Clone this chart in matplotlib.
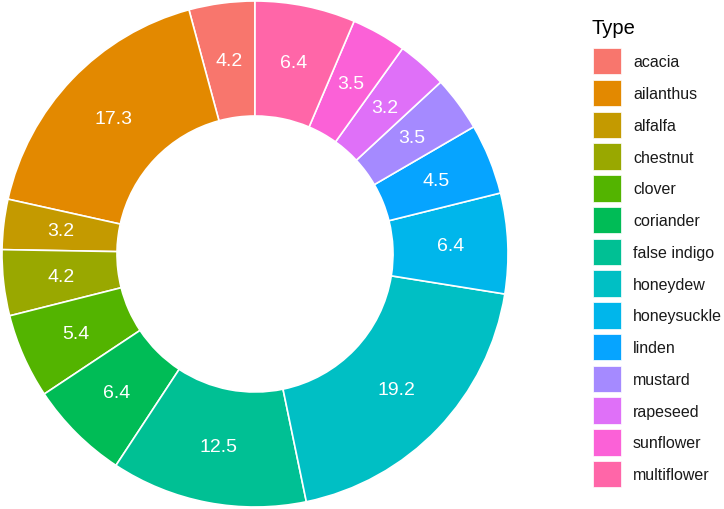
import matplotlib.pyplot as plt
from matplotlib.patches import Patch

types = ["acacia", "ailanthus", "alfalfa", "chestnut", "clover", "coriander",
         "false indigo", "honeydew", "honeysuckle", "linden", "mustard",
         "rapeseed", "sunflower", "multiflower"]
shares = [4.2, 17.3, 3.2, 4.2, 5.4, 6.4, 12.5, 19.2, 6.4, 4.5, 3.5, 3.2, 3.5, 6.4]
colors = ["#F8766D", "#E38900", "#C49A00", "#99A800", "#53B400", "#00BC56",
          "#00C094", "#00BFC4", "#00B6EB", "#06A4FF", "#A58AFF", "#DF70F8",
          "#FB61D7", "#FF66A8"]

plt.rcParams["font.family"] = ["Liberation Sans", "DejaVu Sans"]

W, H = 724, 510
fig = plt.figure(figsize=(W / 100, H / 100), dpi=100)

# donut: centre (255, 255) px, outer radius 253 px, hole radius 138 px
cx, cy, r = 255, 255, 253
ax = fig.add_axes([(cx - r) / W, (H - cy - r) / H, 2 * r / W, 2 * r / H])
ring = 1 - 138 / 253
wedges, texts = ax.pie(
    shares, colors=colors, startangle=90, counterclock=True, radius=1,
    labels=[f"{v:.1f}" for v in shares], labeldistance=1 - ring / 2,
    wedgeprops=dict(width=ring, edgecolor="white", linewidth=1.2),
    textprops=dict(color="white", fontsize=14, ha="center", va="center"),
)
ax.set_xlim(-1, 1)
ax.set_ylim(-1, 1)
ax.set_aspect("equal")
ax.axis("off")

# legend title drawn separately so the gap to the keys can be set
fig.text(592 / W, 1 - 34 / H, "Type", fontsize=14.5, va="baseline", ha="left")

handles = [Patch(facecolor=c, edgecolor="white", linewidth=0.5) for c in colors]
leg = fig.legend(
    handles, types, loc="upper left",
    bbox_to_anchor=(593 / W, 1 - 49 / H), frameon=False,
    fontsize=11.5, borderpad=0, borderaxespad=0,
    handlelength=1.75, handleheight=2.175, labelspacing=0.33,
    handletextpad=0.75,
)
for t in leg.get_texts():
    t.set_color("#1a1a1a")

fig.savefig("out.png", dpi=100)
